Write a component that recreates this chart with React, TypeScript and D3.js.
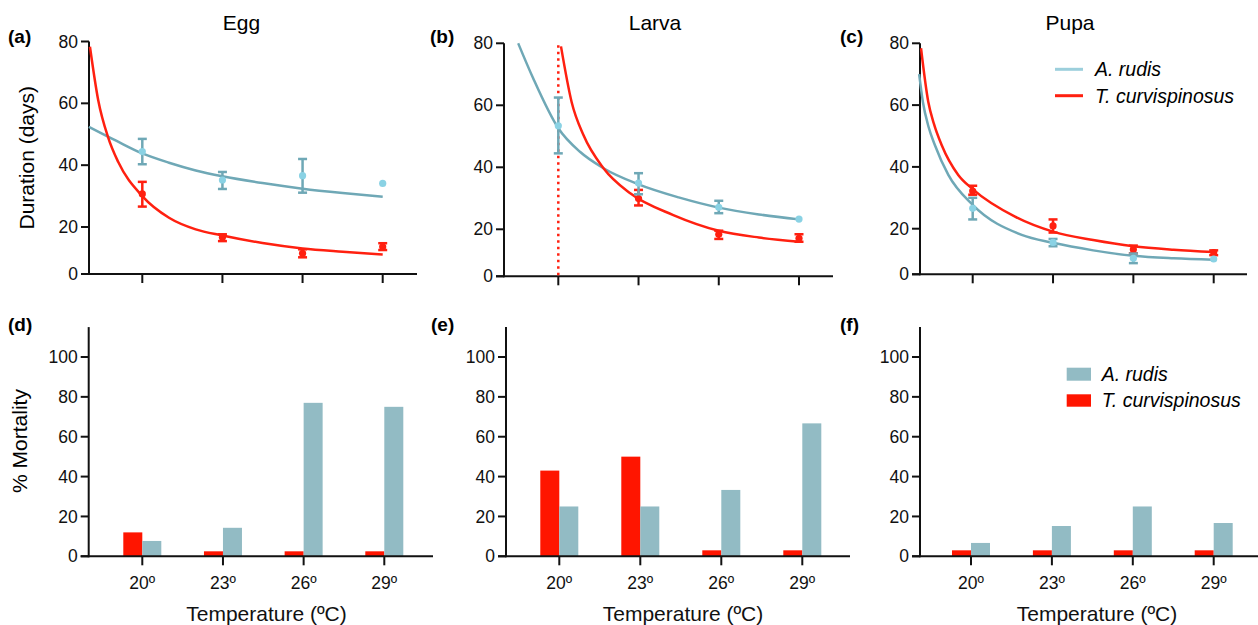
import React from "react";
import * as d3 from "d3";

// ---------- data ----------
const temps = [20, 23, 26, 29];
const tempLabels = ["20º", "23º", "26º", "29º"];
const durTicks = [0, 20, 40, 60, 80];
const mortTicks = [0, 20, 40, 60, 80, 100];

// Egg development (days)
const eggRudisMean = [44.4, 35.2, 36.6, 34.1];
const eggRudisLo = [40.3, 32.3, 31.1, null];
const eggRudisHi = [48.5, 37.8, 42.0, null];
const eggCurvMean = [30.7, 15.6, 8.8, 11.6];
const eggCurvLo = [26.6, 14.0, 7.1, 10.2];
const eggCurvHi = [34.6, 16.9, 10.5, 13.1];
const eggRudisFitT = [18.0, 19, 20, 21, 22, 23, 24.5, 26, 27.5, 29];
const eggRudisFitV = [52.4, 48, 43.8, 40.8, 38.3, 36.4, 34.2, 32.4, 31, 29.8];
const eggCurvFitT = [18.04, 18.35, 18.72, 19.1, 20, 21, 22, 23, 24.5, 26, 27.5, 29];
const eggCurvFitV = [78.3, 61, 49, 41, 30, 23, 19, 16.4, 13.2, 10.9, 9.5, 8.3];

// Larva development (days)
const larvaRudisMean = [53.4, 34.9, 27.1, 23.3];
const larvaRudisLo = [44.5, 31.3, 25.2, null];
const larvaRudisHi = [62.5, 38.1, 29.2, null];
const larvaCurvMean = [null, 29.9, 17.9, 16.2];
const larvaCurvLo = [null, 27.7, 15.9, 14.7];
const larvaCurvHi = [null, 32.7, 19.4, 17.9];
const larvaRudisFitT = [18.5, 19.06, 20, 20.81, 21.69, 23, 24.5, 26, 27.5, 29];
const larvaRudisFitV = [80, 68.7, 52.6, 45, 39.7, 34.5, 30.3, 27, 24.8, 23.2];
const larvaCurvFitT = [20.1, 20.5, 20.94, 21.69, 22.69, 24.3, 26, 27.5, 29];
const larvaCurvFitV = [79, 61, 50.4, 39.7, 31.6, 24.6, 19.4, 16.5, 14.7];
const larvaCurvLimitT = 20;

// Pupa development (days)
const pupaRudisMean = [26.6, 14.0, 7.0, 6.7];
const pupaRudisLo = [23.0, 12.3, 4.9, null];
const pupaRudisHi = [30.0, 15.5, 9.1, null];
const pupaCurvMean = [32.2, 20.9, 10.9, 9.5];
const pupaCurvLo = [31.0, 18.3, 9.2, 8.4];
const pupaCurvHi = [33.9, 23.0, 12.6, 10.5];
const pupaRudisFitT = [18.0, 18.14, 18.35, 18.59, 19.09, 20, 21.83, 23, 24.5, 26, 27.5, 29];
const pupaRudisFitV = [70, 61, 53, 47, 37.4, 27.7, 17.3, 13.8, 10.5, 8.1, 7, 6.4];
const pupaCurvFitT = [18.07, 18.34, 18.55, 18.84, 19.46, 20, 21.58, 23, 24.5, 26, 27.5, 29];
const pupaCurvFitV = [78.4, 61.1, 54, 47.1, 37.4, 32.8, 23.9, 18.7, 15, 12.3, 10.8, 9.8];

// Mortality (%)
const eggMortCurv = [12, 2.5, 2.5, 2.5];
const eggMortRudis = [7.7, 14.3, 77, 75];
const larvaMortCurv = [43, 50, 3, 3];
const larvaMortRudis = [25, 25, 33.3, 66.7];
const pupaMortCurv = [3, 3, 3, 3];
const pupaMortRudis = [6.7, 15.2, 25, 16.7];

const speciesNames = ["A. rudis", "T. curvispinosus"];

// ---------- styles ----------
const FONT = "'Liberation Sans', Arial, Helvetica, sans-serif";
const AX = "#111";
const TEAL = "#6fa8b6";
const TEAL_PT = "#8ad2e4";
const TEAL_LEG = "#9ccfdc";
const RED = "#ff2010";
const BAR_RED = "#ff1500";
const BAR_BLUE = "#92bbc4";

const zip = (a: number[], b: number[]) => a.map((v, i) => [v, b[i]] as [number, number]);

const topPanels = [
  {
    label: "(a)", title: "Egg", ax: 89, xEnd: 417, t20: 142.3, t29: 382.7, y80: 41.5, y20: 227, y0: 274,
    labX: 8, titleX: 241.5, yTitle: "Duration (days)",
    rM: eggRudisMean, rLo: eggRudisLo, rHi: eggRudisHi, cM: eggCurvMean, cLo: eggCurvLo, cHi: eggCurvHi,
    rFit: zip(eggRudisFitT, eggRudisFitV), cFit: zip(eggCurvFitT, eggCurvFitV), limit: null as number | null, legend: false,
  },
  {
    label: "(b)", title: "Larva", ax: 504, xEnd: 833, t20: 558.3, t29: 799, y80: 43.3, y20: 229.3, y0: 276.3,
    labX: 430, titleX: 655, yTitle: "",
    rM: larvaRudisMean, rLo: larvaRudisLo, rHi: larvaRudisHi, cM: larvaCurvMean, cLo: larvaCurvLo, cHi: larvaCurvHi,
    rFit: zip(larvaRudisFitT, larvaRudisFitV), cFit: zip(larvaCurvFitT, larvaCurvFitV), limit: larvaCurvLimitT, legend: false,
  },
  {
    label: "(c)", title: "Pupa", ax: 920, xEnd: 1247, t20: 972.7, t29: 1213.7, y80: 43.3, y20: 228.7, y0: 274.3,
    labX: 840, titleX: 1070, yTitle: "",
    rM: pupaRudisMean, rLo: pupaRudisLo, rHi: pupaRudisHi, cM: pupaCurvMean, cLo: pupaCurvLo, cHi: pupaCurvHi,
    rFit: zip(pupaRudisFitT, pupaRudisFitV), cFit: zip(pupaCurvFitT, pupaCurvFitV), limit: null, legend: true,
  },
];

const bottomPanels = [
  { label: "(d)", ax: 88.7, xEnd: 433, t20: 142.3, t29: 384.3, labX: 8, curv: eggMortCurv, rudis: eggMortRudis, yTitle: "% Mortality", legend: false, xTitleX: 266.5 },
  { label: "(e)", ax: 506, xEnd: 850, t20: 559.3, t29: 802.3, labX: 431, curv: larvaMortCurv, rudis: larvaMortRudis, yTitle: "", legend: false, xTitleX: 683 },
  { label: "(f)", ax: 920, xEnd: 1258, t20: 971, t29: 1213.7, labX: 840, curv: pupaMortCurv, rudis: pupaMortRudis, yTitle: "", legend: true, xTitleX: 1097 },
];

function ErrorPoints({ x, y, mean, lo, hi, stroke, fill }: any) {
  return (
    <g>
      {temps.map((t, i) => {
        if (mean[i] == null) return null;
        const cx = x(t);
        return (
          <g key={i}>
            {lo[i] != null && hi[i] != null && (
              <g stroke={stroke} strokeWidth={2.5} fill="none">
                <line x1={cx} x2={cx} y1={y(lo[i])} y2={y(hi[i])} />
                <line x1={cx - 4.5} x2={cx + 4.5} y1={y(lo[i])} y2={y(lo[i])} />
                <line x1={cx - 4.5} x2={cx + 4.5} y1={y(hi[i])} y2={y(hi[i])} />
              </g>
            )}
            <circle cx={cx} cy={y(mean[i])} r={3.6} fill={fill} />
          </g>
        );
      })}
    </g>
  );
}

function TopPanel({ p }: any) {
  const x = d3.scaleLinear().domain([20, 29]).range([p.t20, p.t29]);
  const y = d3.scaleLinear().domain([0, 20, 80]).range([p.y0, p.y20, p.y80]);
  const line = d3.line<[number, number]>().x((d) => x(d[0])).y((d) => y(d[1])).curve(d3.curveMonotoneX);
  return (
    <g>
      <text x={p.labX} y={43} fontSize={19} fontWeight="bold" fontFamily={FONT}>{p.label}</text>
      <text x={p.titleX} y={30} fontSize={21} textAnchor="middle" fontFamily={FONT}>{p.title}</text>
      {p.yTitle && (
        <text transform={`translate(34,${(p.y0 + p.y80) / 2}) rotate(-90)`} textAnchor="middle" fontSize={21} fontFamily={FONT}>{p.yTitle}</text>
      )}
      {/* axes */}
      <line x1={p.ax} x2={p.ax} y1={p.y80} y2={p.y0 + 1} stroke={AX} strokeWidth={2} />
      <line x1={p.ax - 8} x2={p.xEnd} y1={p.y0} y2={p.y0} stroke={AX} strokeWidth={2} />
      {durTicks.map((v) => (
        <g key={v}>
          <line x1={p.ax - 8} x2={p.ax} y1={y(v)} y2={y(v)} stroke={AX} strokeWidth={2} />
          <text x={p.ax - 11} y={y(v)} dy="0.35em" textAnchor="end" fontSize={17.5} fontFamily={FONT} fill="#111">{v}</text>
        </g>
      ))}
      {temps.map((t) => (
        <line key={t} x1={x(t)} x2={x(t)} y1={p.y0} y2={p.y0 + 9} stroke={AX} strokeWidth={2} />
      ))}
      {p.limit != null && (
        <line x1={x(p.limit)} x2={x(p.limit)} y1={p.y80 + 2} y2={p.y0} stroke={RED} strokeWidth={2.5} strokeDasharray="2.5,4" />
      )}
      <path d={line(p.rFit) || ""} fill="none" stroke={TEAL} strokeWidth={2.5} />
      <path d={line(p.cFit) || ""} fill="none" stroke={RED} strokeWidth={2.5} />
      <ErrorPoints x={x} y={y} mean={p.cM} lo={p.cLo} hi={p.cHi} stroke={RED} fill={RED} />
      <ErrorPoints x={x} y={y} mean={p.rM} lo={p.rLo} hi={p.rHi} stroke={TEAL} fill={TEAL_PT} />
      {p.legend && (
        <g fontFamily={FONT} fontSize={19.5} fontStyle="italic">
          <line x1={1055} x2={1083} y1={69.3} y2={69.3} stroke={TEAL_LEG} strokeWidth={3} />
          <text x={1095} y={69.3} dy="0.35em">{speciesNames[0]}</text>
          <line x1={1055} x2={1083} y1={95.7} y2={95.7} stroke={RED} strokeWidth={3} />
          <text x={1095} y={95.7} dy="0.35em">{speciesNames[1]}</text>
        </g>
      )}
    </g>
  );
}

function BottomPanel({ p }: any) {
  const y0 = 556.3;
  const x = d3.scaleLinear().domain([20, 29]).range([p.t20, p.t29]);
  const y = d3.scaleLinear().domain([0, 100]).range([y0, 357]);
  const bw = 19;
  return (
    <g>
      <text x={p.labX} y={331} fontSize={19} fontWeight="bold" fontFamily={FONT}>{p.label}</text>
      {p.yTitle && (
        <text transform={`translate(27,${441}) rotate(-90)`} textAnchor="middle" fontSize={21} fontFamily={FONT}>{p.yTitle}</text>
      )}
      {temps.map((t, i) => (
        <g key={t}>
          <rect x={x(t) - bw} width={bw} y={y(p.curv[i])} height={y0 - y(p.curv[i])} fill={BAR_RED} />
          <rect x={x(t)} width={bw} y={y(p.rudis[i])} height={y0 - y(p.rudis[i])} fill={BAR_BLUE} />
        </g>
      ))}
      <line x1={p.ax} x2={p.ax} y1={y(115)} y2={y0 + 1} stroke={AX} strokeWidth={2} />
      <line x1={p.ax - 8} x2={p.xEnd} y1={y0} y2={y0} stroke={AX} strokeWidth={2} />
      {mortTicks.map((v) => (
        <g key={v}>
          <line x1={p.ax - 8} x2={p.ax} y1={y(v)} y2={y(v)} stroke={AX} strokeWidth={2} />
          <text x={p.ax - 11} y={y(v)} dy="0.35em" textAnchor="end" fontSize={17.5} fontFamily={FONT} fill="#111">{v}</text>
        </g>
      ))}
      {temps.map((t, i) => (
        <g key={t}>
          <line x1={x(t)} x2={x(t)} y1={y0} y2={y0 + 9} stroke={AX} strokeWidth={2} />
          <text x={x(t)} y={588.5} textAnchor="middle" fontSize={17.5} fontFamily={FONT} fill="#111">{tempLabels[i]}</text>
        </g>
      ))}
      <text x={p.xTitleX} y={621} textAnchor="middle" fontSize={21} fontFamily={FONT} fill="#111">Temperature (ºC)</text>
      {p.legend && (
        <g fontFamily={FONT} fontSize={19.5} fontStyle="italic">
          <rect x={1066.7} y={367.7} width={24.3} height={13} fill={BAR_BLUE} />
          <text x={1101.7} y={374.2} dy="0.35em">{speciesNames[0]}</text>
          <rect x={1066.7} y={394.3} width={24.3} height={12.4} fill={BAR_RED} />
          <text x={1101.7} y={400.5} dy="0.35em">{speciesNames[1]}</text>
        </g>
      )}
    </g>
  );
}

export default function App() {
  return (
    <svg
      width={1258}
      height={625}
      viewBox="0 0 1258 625"
      style={{ position: "absolute", left: 0, top: 0, background: "#fff" }}
      fontFamily={FONT}
    >
      <rect width={1258} height={625} fill="#fff" />
      {topPanels.map((p) => <TopPanel key={p.label} p={p} />)}
      {bottomPanels.map((p) => <BottomPanel key={p.label} p={p} />)}
    </svg>
  );
}
